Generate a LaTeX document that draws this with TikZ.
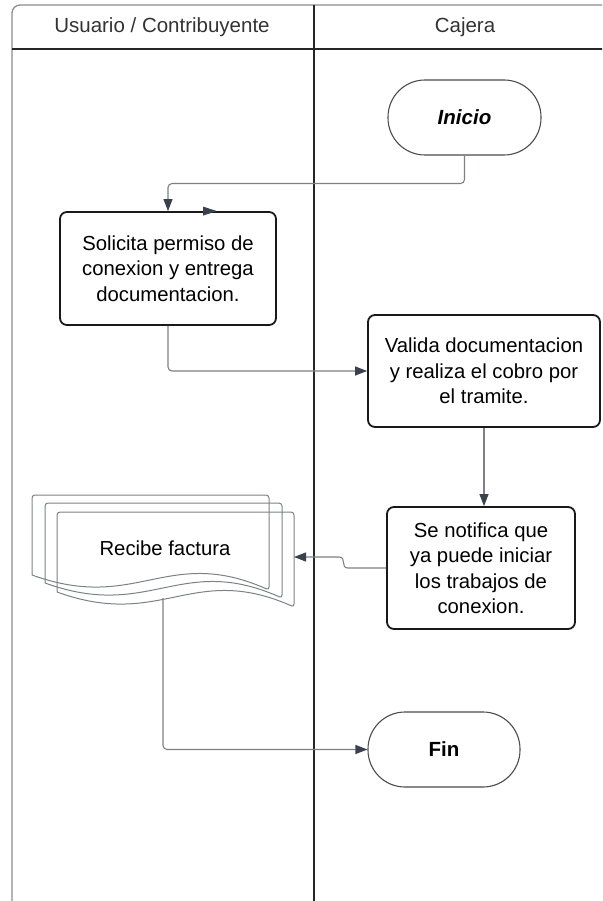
\documentclass[tikz,border=0pt]{standalone}
\usepackage{fontspec}
\setmainfont{Liberation Sans}
\usetikzlibrary{arrows.meta,calc}

\definecolor{linegray}{RGB}{125,129,134}
\definecolor{tipgray}{RGB}{58,65,77}
\definecolor{lanegray}{RGB}{140,140,140}
\definecolor{headtext}{RGB}{51,51,51}

\tikzset{
    procbox/.style={draw=black!90, line width=1.8pt, rounded corners=7pt,
        align=center, font=\fontsize{20.3}{25.5}\selectfont, inner sep=0pt},
    termbox/.style={draw=black!70, line width=1.1pt, rounded corners=37pt,
        minimum width=152pt, minimum height=75pt, inner sep=0pt,
        font=\fontsize{20.5}{24}\selectfont\bfseries},
    docpage/.style={draw=linegray, line width=1pt},
    flow/.style={draw=linegray, line width=1.1pt, rounded corners=4pt,
        -{Triangle[length=12pt, width=9pt, color=tipgray]}},
    lanelabel/.style={text=headtext, font=\fontsize{20.5}{24}\selectfont}
}

\begin{document}
\begin{tikzpicture}[x=1pt, y=-1pt]
    \useasboundingbox (0,0) rectangle (602,901);
    \clip (0,0) rectangle (602,901);

    % Lanes
    \draw[lanegray, line width=1.3pt, rounded corners=8pt] (12,905) -- (12,5) -- (610,5);
    \draw[black!85, line width=1.3pt] (12,49) -- (610,49);
    \draw[black!85, line width=1.5pt] (314,5) -- (314,905);
    \node[lanelabel] (LaneUser) at (162,27) {Usuario / Contribuyente};
    \node[lanelabel] (LaneCashier) at (465,27) {Cajera};

    % Nodes
    \node[termbox, minimum width=153pt] (Inicio) at (464.5,117.5) {\itshape Inicio};
    \node[procbox, minimum width=216pt, minimum height=113pt] (Solicita) at (168,268.5)
        {Solicita permiso de\\conexion y entrega\\documentacion.};
    \node[procbox, minimum width=232pt, minimum height=112pt] (Valida) at (484,371)
        {Valida documentacion\\y realiza el cobro por\\el tramite.};
    \node[procbox, minimum width=188pt, minimum height=122pt] (Notifica) at (481,568)
        {Se notifica que\\ya puede iniciar\\los trabajos de\\conexion.};
    \node[termbox] (Fin) at (444,749.5) {Fin};

    % Recibe factura (stacked documents)
    \foreach \dx/\dy in {32/495, 45/503, 57/512}
        \draw[docpage, rounded corners=3pt] (\dx,\dy+80) -- (\dx,\dy) -- (\dx+237,\dy)
            -- (\dx+237,\dy+95) [sharp corners]
            .. controls (\dx+135,\dy+50) and (\dx+105,\dy+118) .. (\dx,\dy+80);
    \node[font=\fontsize{20.3}{24}\selectfont] (Recibe) at (165,548) {Recibe factura};
    \coordinate (RecibeR) at (294,557);
    \coordinate (RecibeB) at (163,598);

    % Arrows
    \draw[flow] (Inicio.south) -- ++(0,28) -| (Solicita.north);
    \fill[tipgray] ($(Solicita.north)+(35,-4.5)$) -- ++(14,4.5) -- ++(-14,4.5) -- cycle;
    \draw[flow] (Solicita.south) |- (Valida.west);
    \draw[flow, rounded corners=0pt] (Valida.south) -- (Valida.south |- Notifica.north);
    \draw[flow, rounded corners=0pt] (Notifica.west) -- (348,568)
        .. controls (340,568) and (347,557) .. (339,557) -- (RecibeR);
    \draw[flow] (RecibeB) |- (Fin.west);
\end{tikzpicture}
\end{document}
